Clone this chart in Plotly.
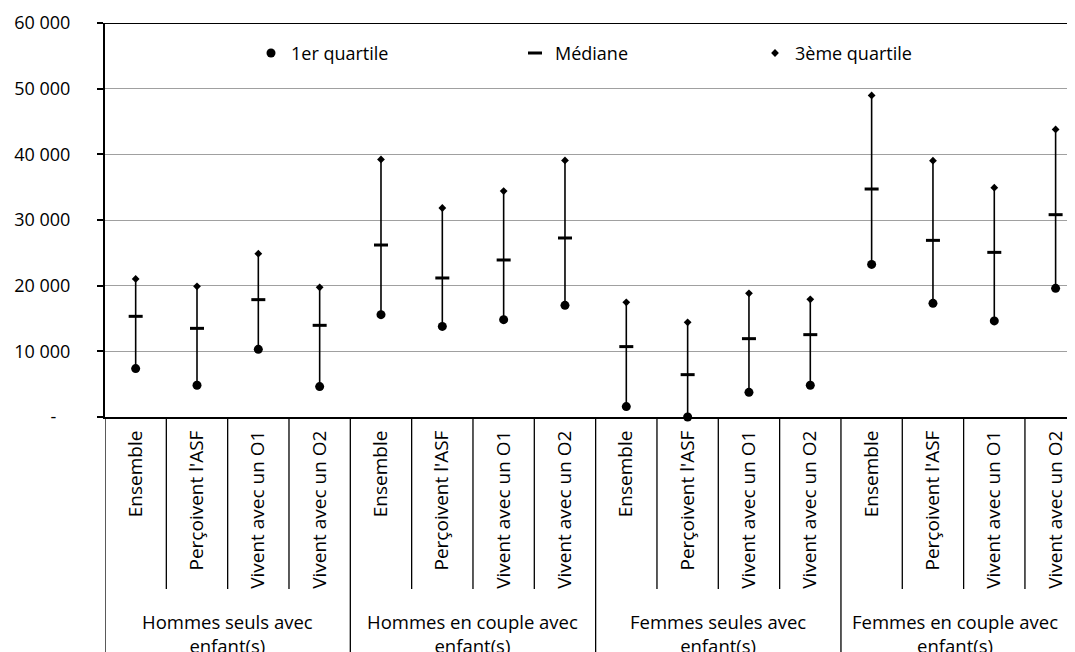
import plotly.graph_objects as go

# groups and sub-categories shown on the x axis
groups = [
    "Hommes seuls avec<br>enfant(s)",
    "Hommes en couple avec<br>enfant(s)",
    "Femmes seules avec<br>enfant(s)",
    "Femmes en couple avec<br>enfant(s)",
]
sub_categories = ["Ensemble", "Perçoivent l'ASF", "Vivent avec un O1", "Vivent avec un O2"]

# values (euros)
q1 = [7370, 4830, 10300, 4630,
      15590, 13800, 14820, 17000,
      1580, 0, 3760, 4830,
      23240, 17310, 14630, 19590]
median = [15330, 13500, 17870, 13960,
          26190, 21170, 23910, 27260,
          10720, 6450, 11930, 12540,
          34720, 26900, 25070, 30810]
q3 = [21020, 19900, 24870, 19740,
      39220, 31830, 34410, 39070,
      17460, 14410, 18830, 17920,
      48970, 39030, 34920, 43790]

y_ticks = [0, 10000, 20000, 30000, 40000, 50000, 60000]
y_tick_text = ["-\u00a0\u00a0\u00a0", "10 000", "20 000", "30 000", "40 000", "50 000", "60 000"]

FONT = "Open Sans"
n_sub = len(sub_categories)
x_pos = list(range(len(groups) * n_sub))
x_labels = [s for g in groups for s in sub_categories]

# vertical segments from 1st to 3rd quartile
seg_x, seg_y = [], []
for x, lo, hi in zip(x_pos, q1, q3):
    seg_x += [x, x, None]
    seg_y += [lo, hi, None]

fig = go.Figure()
fig.add_trace(go.Scatter(x=seg_x, y=seg_y, mode="lines",
                         line=dict(color="black", width=1.6),
                         showlegend=False, hoverinfo="skip", cliponaxis=False))
fig.add_trace(go.Scatter(x=x_pos, y=q1, mode="markers", name="1er quartile",
                         marker=dict(symbol="circle", size=9, color="black"),
                         legend="legend", cliponaxis=False))
fig.add_trace(go.Scatter(x=x_pos, y=median, mode="markers", name="Médiane",
                         marker=dict(symbol="line-ew", size=10,
                                     line=dict(color="black", width=3)),
                         legend="legend2", cliponaxis=False))
fig.add_trace(go.Scatter(x=x_pos, y=q3, mode="markers", name="3ème quartile",
                         marker=dict(symbol="diamond", size=6, color="black"),
                         legend="legend3", cliponaxis=False))

# page has an 8px body margin, so the figure is drawn 8px in from the corner
# plot area on screen: 105px -> 1075px, one category = 61.33px
PLOT_W = 970
CAT_W = 61.33
x_max = -0.5 + PLOT_W / CAT_W
PLOT_H = 394


def py(px_y):
    # screen pixel y -> paper y
    return (417 - px_y) / PLOT_H


def px_x(px):
    return (px - 105) / PLOT_W


shapes = []
# top border
shapes.append(dict(type="line", xref="paper", yref="y", x0=0, x1=1, y0=60000, y1=60000,
                   line=dict(color="black", width=2)))
# dividers between sub categories
for k in range(len(x_pos)):
    b = k - 0.5
    if k % n_sub == 0:
        y1 = py(660)
    else:
        y1 = py(589)
    shapes.append(dict(type="line", xref="x", yref="paper", x0=b, x1=b, y0=0, y1=y1,
                       line=dict(color="black", width=1.3)))

annotations = []
for gi, g in enumerate(groups):
    # last label is nudged left so it stays inside the window, as in the original
    shift = -9 if gi == len(groups) - 1 else 0
    annotations.append(dict(text=g, xref="x", yref="paper",
                            x=gi * n_sub + (n_sub - 1) / 2, y=py(607), xshift=shift,
                            xanchor="center", yanchor="top", showarrow=False,
                            font=dict(family=FONT, size=18.5, color="black")))

legend_common = dict(orientation="h", yanchor="middle", y=py(53.3), xanchor="left",
                     bgcolor="rgba(0,0,0,0)", font=dict(family=FONT, size=18, color="black"))

fig.update_layout(
    width=1067, height=644,
    margin=dict(l=97, r=0, t=15, b=235),
    paper_bgcolor="white", plot_bgcolor="white",
    font=dict(family=FONT, size=18, color="black"),
    shapes=shapes,
    annotations=annotations,
    legend=dict(x=px_x(251), **legend_common),
    legend2=dict(x=px_x(515), **legend_common),
    legend3=dict(x=px_x(755), **legend_common),
)
fig.update_xaxes(range=[-0.5, x_max], tickmode="array", tickvals=x_pos, ticktext=x_labels,
                 tickangle=-90, ticks="", showgrid=False, zeroline=False, automargin=False,
                 showline=True, linecolor="black", linewidth=2,
                 ticklabelstandoff=4, tickfont=dict(family=FONT, size=19, color="black"))
fig.update_yaxes(range=[0, 60000], tickmode="array", tickvals=y_ticks, ticktext=y_tick_text,
                 ticks="outside", ticklen=6, tickcolor="black", tickwidth=1.5, automargin=False,
                 showgrid=True, gridcolor="#a0a0a0", gridwidth=1.2, zeroline=False,
                 showline=True, linecolor="black", linewidth=2,
                 ticklabelstandoff=23, tickfont=dict(family=FONT, size=18, color="black"))

fig.write_html("out.html")
